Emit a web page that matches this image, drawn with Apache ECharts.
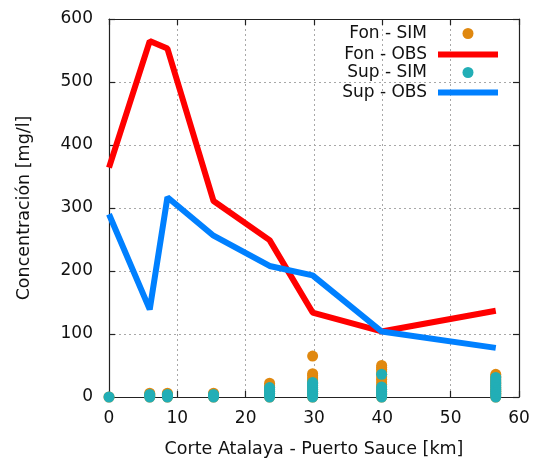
<!DOCTYPE html>
<html>
<head>
<meta charset="utf-8">
<script src="https://cdn.jsdelivr.net/npm/echarts@6/dist/echarts.min.js"></script>
<style>
  html, body { margin: 0; padding: 0; background: #fff; }
  #chart { width: 540px; height: 463px; }
</style>
</head>
<body>
<div id="chart"></div>
<script>
// Sampling stations along the section [km]
const stations = [0, 5.96, 8.55, 15.3, 23.5, 29.8, 39.9, 56.6];

// Observed concentrations [mg/l]
const fonObs = [364, 565, 553, 311, 249, 134, 104, 137];
const supObs = [290, 139, 317, 256, 208, 193, 104, 78];

// Simulated concentrations per station (one list of values for each station)
const fonSim = [
  [0],
  [0, 2, 4, 6],
  [0, 2, 4, 6],
  [0, 2, 4, 6],
  [0, 3, 6, 9, 12, 15, 18, 22],
  [0, 3, 6, 9, 12, 15, 18, 21, 24, 27, 30, 34, 37, 65],
  [0, 4, 8, 12, 16, 20, 24, 28, 32, 36, 40, 44, 47, 50],
  [0, 3, 6, 9, 12, 15, 18, 21, 24, 27, 30, 33, 36]
];
const supSim = [
  [0],
  [0, 2, 4],
  [0, 2, 4],
  [0, 2, 4],
  [0, 3, 6, 9, 12, 15],
  [0, 3, 6, 9, 12, 15, 18, 21, 23],
  [0, 3, 6, 9, 12, 16, 36],
  [0, 3, 6, 9, 12, 15, 18, 21, 24, 27, 31]
];

const xTicks = { min: 0, max: 60, interval: 10 };
const yTicks = { min: 0, max: 600, interval: 100 };

const FONT = 'DejaVu Sans';
const COLORS = { fonSim: '#e0880f', fonObs: '#ff0000', supSim: '#22aeb6', supObs: '#0080ff' };

function pairs(xs, ys) { return xs.map((x, i) => [x, ys[i]]); }
function columns(xs, lists) {
  const out = [];
  lists.forEach((vals, i) => vals.forEach(v => out.push([xs[i], v])));
  return out;
}

const gridLine = { show: true, lineStyle: { color: '#a8a8a8', type: [2, 3], width: 1 } };
const frameLine = { show: true, onZero: false, lineStyle: { color: '#222', width: 1.2 } };
const innerTick = { show: true, inside: true, length: 6, lineStyle: { color: '#222', width: 1.2 } };

// One legend block per entry: text on the left, key on the right
function legendItem(name, top, right, icon, h) {
  return {
    data: [{ name: name, icon: icon }],
    right: right, top: top, padding: 0,
    itemWidth: 60, itemHeight: h, align: 'right',
    selectedMode: false,
    textStyle: { fontFamily: FONT, fontSize: 17, color: '#111', padding: [0, 6, 0, 0] }
  };
}

const chart = echarts.init(document.getElementById('chart'), null, { renderer: 'canvas' });
chart.setOption({
  animation: false,
  backgroundColor: '#fff',
  grid: { left: 109, right: 21, top: 19, bottom: 62, containLabel: false },
  xAxis: [
    {
      type: 'value', position: 'bottom', min: xTicks.min, max: xTicks.max, interval: xTicks.interval,
      name: 'Corte Atalaya - Puerto Sauce [km]', nameLocation: 'middle', nameGap: 43,
      nameTextStyle: { fontFamily: FONT, fontSize: 17.5, color: '#111' },
      axisLine: frameLine, axisTick: innerTick, splitLine: gridLine,
      axisLabel: { fontFamily: FONT, fontSize: 17, color: '#111', margin: 13 }
    },
    {
      type: 'value', position: 'top', min: xTicks.min, max: xTicks.max, interval: xTicks.interval,
      axisLine: frameLine, axisTick: innerTick, splitLine: { show: false }, axisLabel: { show: false }
    }
  ],
  yAxis: [
    {
      type: 'value', position: 'left', min: yTicks.min, max: yTicks.max, interval: yTicks.interval,
      name: 'Concentración [mg/l]', nameLocation: 'middle', nameGap: 76,
      nameTextStyle: { fontFamily: FONT, fontSize: 17.5, color: '#111' },
      axisLine: frameLine, axisTick: innerTick, splitLine: gridLine,
      axisLabel: { fontFamily: FONT, fontSize: 17, color: '#111', margin: 16 }
    },
    {
      type: 'value', position: 'right', min: yTicks.min, max: yTicks.max, interval: yTicks.interval,
      axisLine: frameLine, axisTick: innerTick, splitLine: { show: false }, axisLabel: { show: false }
    }
  ],
  legend: [
    legendItem('Fon - SIM', 25, 66.5, 'circle', 11),
    legendItem('Fon - OBS', 46, 42, 'rect', 6),
    legendItem('Sup - SIM', 64, 66.5, 'circle', 11),
    legendItem('Sup - OBS', 84, 42, 'rect', 6)
  ],
  series: [
    {
      name: 'Fon - SIM', type: 'scatter', symbol: 'circle', symbolSize: 11,
      itemStyle: { color: COLORS.fonSim, opacity: 1 },
      data: columns(stations, fonSim), z: 2
    },
    {
      name: 'Fon - OBS', type: 'line', showSymbol: false, symbol: 'none',
      lineStyle: { color: COLORS.fonObs, width: 6 }, itemStyle: { color: COLORS.fonObs },
      data: pairs(stations, fonObs), z: 3
    },
    {
      name: 'Sup - SIM', type: 'scatter', symbol: 'circle', symbolSize: 11,
      itemStyle: { color: COLORS.supSim, opacity: 1 },
      data: columns(stations, supSim), z: 4
    },
    {
      name: 'Sup - OBS', type: 'line', showSymbol: false, symbol: 'none',
      lineStyle: { color: COLORS.supObs, width: 6 }, itemStyle: { color: COLORS.supObs },
      data: pairs(stations, supObs), z: 5
    }
  ]
});
</script>
</body>
</html>
